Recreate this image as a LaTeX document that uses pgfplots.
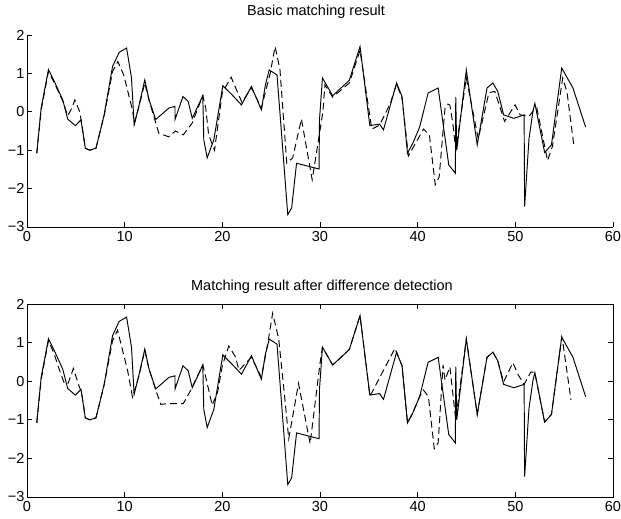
\documentclass[border=0pt]{standalone}
\usepackage{pgfplots}
\pgfplotsset{compat=1.18}
\usepackage{pgfplotstable}
\usepackage{fontspec}
\setmainfont{Liberation Sans}

\pgfplotstableread{
x y
1 -1.08
1.45 0.1
2.2 1.1
2.8 0.79
3.66 0.31
4.17 -0.19
4.95 -0.36
5.53 -0.21
5.97 -0.95
6.43 -1.0
7.06 -0.95
7.9 -0.08
8.76 1.18
9.44 1.55
10.2 1.66
10.7 0.88
10.97 -0.34
11.48 0.18
12.06 0.83
12.5 0.31
13.18 -0.2
14.54 0.1
15.15 0.14
15.16 -0.2
15.97 0.4
16.5 0.27
16.92 -0.17
18.0 0.42
18.1 -0.73
18.45 -1.2
19.13 -0.73
20.05 0.68
21.0 0.44
21.96 0.18
22.98 0.66
24.0 0.05
24.4 0.69
24.8 1.09
25.6 0.96
26.7 -2.68
27.1 -2.5
27.6 -1.34
29.9 -1.49
29.95 -0.2
30.25 0.88
31.3 0.42
33.0 0.82
34.1 1.7
35.1 -0.36
36.1 -0.32
36.5 -0.47
37.84 0.75
38.4 0.4
38.96 -1.08
39.5 -0.82
40.2 -0.4
41.07 0.49
42.1 0.62
43.18 -1.38
43.86 -1.6
43.9 0.38
44.0 -1.0
44.98 1.09
46.1 -0.86
47.1 0.62
47.7 0.75
48.2 0.53
48.8 -0.08
49.85 -0.17
50.9 -0.08
50.95 -2.47
51.4 -0.7
51.8 0.01
52.0 0.22
53.0 -1.06
53.7 -0.86
54.75 1.14
55.9 0.62
57.2 -0.4
}\solidtab

\pgfplotstableread{
x y
1 -1.08
1.45 0.05
2.2 1.05
2.8 0.75
3.66 0.28
4.17 -0.1
4.6 0.1
4.9 0.31
5.4 0.0
5.6 -0.3
5.97 -0.95
6.43 -1.0
7.06 -0.95
7.9 -0.1
8.76 1.05
9.3 1.31
9.9 0.96
10.8 0.05
11.0 -0.3
11.48 0.15
12.06 0.75
12.5 0.3
13.5 -0.56
14.5 -0.65
15.2 -0.5
16.0 -0.6
16.9 -0.3
18.0 0.42
18.3 0.1
18.6 -0.6
19.2 -1.0
20.0 0.5
20.9 0.9
22.0 0.25
22.98 0.62
24.0 0.1
24.9 1.0
25.4 1.7
25.9 1.1
26.6 -1.34
27.2 -1.2
28.1 -0.19
29.2 -1.77
30.3 0.0
30.5 0.7
31.3 0.38
33.0 0.75
34.1 1.6
35.3 -0.45
36.1 -0.35
37.2 0.22
37.84 0.72
38.4 0.35
39.05 -1.15
40.6 -0.45
41.2 -0.6
41.8 -1.9
42.2 -1.7
42.8 0.1
43.1 0.2
43.3 0.17
43.6 -0.3
43.9 -1.0
44.98 0.88
46.2 -0.7
47.3 0.5
47.9 0.53
48.9 -0.25
49.97 0.18
50.5 -0.08
51.4 -0.12
51.9 0.05
52.2 0.1
53.3 -1.27
53.8 -0.9
54.85 0.88
55.3 0.5
56.0 -0.9
}\dashtopTab

\pgfplotstableread{
x y
1 -1.08
1.45 0.05
2.2 1.05
2.8 0.7
3.14 0.42
3.83 -0.06
4.2 -0.06
4.75 0.33
5.35 -0.14
5.6 -0.3
5.97 -0.95
6.43 -1.0
7.06 -0.95
7.9 -0.1
8.76 1.05
9.27 1.32
10.3 0.28
10.8 -0.41
11.48 0.15
12.06 0.8
12.5 0.3
13.2 -0.24
13.7 -0.6
14.5 -0.58
16.0 -0.58
16.75 -0.24
18.0 0.42
18.3 0.11
18.96 -0.62
19.5 -0.3
20.0 0.4
20.66 0.91
21.35 0.63
21.7 0.28
22.98 0.62
24.0 0.1
24.6 0.9
25.15 1.76
25.77 1.1
26.3 -0.2
26.8 -1.49
27.8 -0.06
28.99 -1.62
30.0 0.46
30.25 0.88
31.3 0.42
33.0 0.82
34.1 1.7
35.1 -0.36
35.3 -0.3
37.67 0.85
38.4 0.4
38.96 -1.08
39.5 -0.82
40.2 -0.4
40.6 -0.23
41.1 -0.4
41.7 -1.75
42.1 -1.6
42.6 0.42
42.8 0.03
43.3 0.37
43.6 -0.32
43.9 -1.0
44.98 1.09
46.1 -0.86
47.1 0.62
47.7 0.75
48.2 0.53
48.8 -0.02
49.75 0.48
50.3 0.16
50.9 -0.08
51.6 0.24
52.0 0.22
53.0 -1.06
53.7 -0.86
54.75 1.14
54.9 0.94
55.7 -0.49
}\dashbotTab

\pgfplotsset{
  myax/.style={
    scale only axis,
    width=586pt,
    xmin=0, xmax=60, ymin=-3, ymax=2,
    xtick={0,10,...,60},
    ytick={-3,-2,-1,0,1,2},
    yticklabels={−3,−2,−1,0,1,2},
    tick align=inside,
    major tick length=5pt,
    font=\fontsize{14.5}{16}\selectfont,
    /pgf/number format/assume math mode=true,
    axis line style={line width=0.9pt},
    every tick/.style={line width=0.7pt, black},
    yticklabel style={xshift=1pt},
    xticklabel style={yshift=-1pt},
  },
  solidl/.style={black, line width=0.95pt, no marks},
  dashl/.style={black, line width=0.95pt, no marks, dash pattern=on 7pt off 4pt},
}

\begin{document}
\begin{tikzpicture}
\useasboundingbox (0,0) rectangle (621pt,519pt);
\begin{axis}[myax, height=192pt, at={(27pt,292pt)}, anchor=south west,
  axis lines*=left, xtick pos=left, ytick pos=left]
\addplot[dashl] table[x=x,y=y] {\dashtopTab};
\addplot[solidl] table[x=x,y=y] {\solidtab};
\end{axis}
\node[font=\fontsize{14.5}{16}\selectfont] at (316pt,507pt) {Basic matching result};
\begin{axis}[myax, height=193pt, at={(27pt,22pt)}, anchor=south west,
  xtick pos=both, ytick pos=both]
\addplot[dashl] table[x=x,y=y] {\dashbotTab};
\addplot[solidl] table[x=x,y=y] {\solidtab};
\end{axis}
\node[font=\fontsize{14.5}{16}\selectfont] at (322pt,232pt) {Matching result after difference detection};
\end{tikzpicture}
\end{document}
